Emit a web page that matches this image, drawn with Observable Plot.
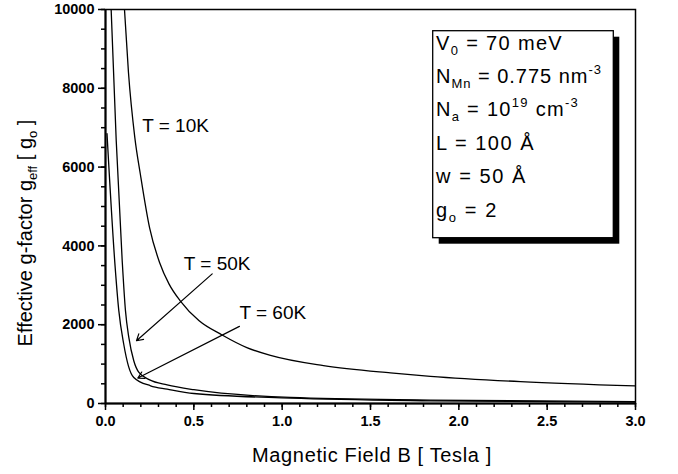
<!DOCTYPE html>
<html><head><meta charset="utf-8">
<script src="https://cdn.jsdelivr.net/npm/d3@7"></script>
<script src="https://cdn.jsdelivr.net/npm/@observablehq/plot@0.6"></script>
<style>body{margin:0;background:#fff;} svg{display:block;}</style>
</head><body><div id="chart"></div>
<script>
// ---- data ----
const B_10K = [0.1075, 0.13, 0.166, 0.198, 0.25, 0.306, 0.36, 0.424, 0.53, 0.66, 0.8, 0.934, 1.234, 1.613, 1.839, 2.349, 3.0];
const G_10K = [10000, 8400, 6750, 5800, 4450, 3580, 3030, 2600, 2100, 1740, 1420, 1220, 960, 775, 690, 555, 445];
const B_50K = [0.032, 0.0606, 0.0945, 0.113, 0.132, 0.160, 0.189, 0.25, 0.349, 0.5, 1.047, 1.839, 3.0];
const G_50K = [10000, 6680, 3625, 2356, 1678, 1085, 788, 600, 475, 350, 153, 86, 45];
const B_60K = [0.0085, 0.054, 0.0753, 0.103, 0.130, 0.160, 0.255, 0.349, 0.5, 1.047, 1.839, 3.0];
const G_60K = [6850, 3500, 2356, 1510, 950, 661, 450, 366, 254, 137, 69, 35];

const xMajorTicks = [0, 0.5, 1.0, 1.5, 2.0, 2.5, 3.0];
const xMinorTicks = d3.range(0, 31).map(i => i / 10);
const yMajorTicks = [0, 2000, 4000, 6000, 8000, 10000];
const yMinorTicks = d3.range(0, 21).map(i => i * 500);

const curveLabels = ["T = 10K", "T = 50K", "T = 60K"];
const labelB = [0.2077, 0.443, 0.758];
const labelG = [7041, 3543, 2298];
const arrowFromB = [0.604, 0.758];
const arrowFromG = [3289, 1957];
const arrowToB = [0.1754, 0.183];
const arrowToG = [1593, 646];

const legendRows = [
  [["V"], ["0", "sub"], [" = 70 meV"]],
  [["N"], ["Mn", "sub"], [" = 0.775 nm"], ["-3", "sup"]],
  [["N"], ["a", "sub"], [" = 10"], ["19", "sup"], [" cm"], ["-3", "sup"]],
  [["L = 100 Å"]],
  [["w = 50 Å"]],
  [["g"], ["o", "sub"], [" = 2"]]
];
const legendRowWidths = [127, 166, 143, 99, 91, 62];
const xTitle = [["Magnetic Field B [ Tesla ]"]];
const yTitle = [["Effective g-factor g"], ["eff", "sub"], [" [ g"], ["o", "sub"], [" ]"]];

// ---- tables ----
const mk = (B, G, T) => B.map((b, i) => ({B: b, g: G[i], T}));
const curves = [...mk(B_10K, G_10K, "10K"), ...mk(B_50K, G_50K, "50K"), ...mk(B_60K, G_60K, "60K")];
const labels = curveLabels.map((t, i) => ({text: t, B: labelB[i], g: labelG[i]}));
const arrows = arrowFromB.map((b, i) => ({B1: b, g1: arrowFromG[i], B2: arrowToB[i], g2: arrowToG[i]}));

const FONT = "'Liberation Sans', Arial, Helvetica, sans-serif";

const chart = Plot.plot({
  width: 678,
  height: 474,
  marginLeft: 105,
  marginRight: 43,
  marginTop: 9,
  marginBottom: 71,
  style: {fontFamily: FONT, fontSize: "15px", color: "black", background: "white"},
  x: {domain: [0, 3]},
  y: {domain: [0, 10000]},
  marks: [
    Plot.frame({stroke: "black", strokeWidth: 1.5}),
    Plot.ruleY([0], {stroke: "black", strokeWidth: 2}),
    Plot.ruleX([0], {stroke: "black", strokeWidth: 2}),
    Plot.axisX({ticks: xMinorTicks, tickSize: 4, tickFormat: () => "", label: null, strokeWidth: 1.5}),
    Plot.axisX({ticks: xMajorTicks, tickSize: 7, tickPadding: 5, tickFormat: d3.format(".1f"), label: null,
      fontWeight: "bold", fontSize: 14.5, strokeWidth: 1.5}),
    Plot.axisY({ticks: yMinorTicks, tickSize: 4, tickFormat: () => "", label: null, strokeWidth: 1.5}),
    Plot.axisY({ticks: yMajorTicks, tickSize: 7, tickPadding: 4, tickFormat: d => String(d), label: null,
      fontWeight: "bold", fontSize: 14.5, strokeWidth: 1.5}),
    Plot.line(curves, {x: "B", y: "g", z: "T", stroke: "black", strokeWidth: 1.3, curve: "monotone-x", clip: true}),
    Plot.arrow(arrows, {x1: "B1", y1: "g1", x2: "B2", y2: "g2", stroke: "black", strokeWidth: 1.2, headLength: 9}),
    Plot.text(labels, {x: "B", y: "g", text: "text", textAnchor: "start", lineAnchor: "middle", fontSize: 19, fill: "black"})
  ]
});
document.getElementById("chart").appendChild(chart);

const svg = d3.select(chart);
svg.selectAll('g[aria-label$="tick label"]').attr("font-weight", "bold").attr("font-size", 14.5);

// ---- rich text helpers (titles and legend with sub/superscripts) ----
function rich(sel, parts, base, small, subDy, supDy) {
  let cur = 0;
  for (const [t, kind] of parts) {
    const target = kind === "sub" ? subDy : kind === "sup" ? -supDy : 0;
    sel.append("tspan").attr("dy", target - cur).attr("font-size", kind ? small : base).text(t);
    cur = target;
  }
}
function fitWidth(sel, parts, target) {
  const n = parts.reduce((s, [t]) => s + t.length, 0);
  const w0 = sel.node().getComputedTextLength();
  const ls = Math.max(0, (target - w0) / n);
  sel.style("letter-spacing", ls + "px");
}

// axis titles
const xt = svg.append("text").attr("x", 372).attr("y", 461.5).attr("text-anchor", "middle")
  .attr("font-family", FONT).attr("fill", "black");
rich(xt, xTitle, 20, 13, 5, 8);
fitWidth(xt, xTitle, 240);
const yt = svg.append("text").attr("transform", "translate(32,233) rotate(-90)").attr("text-anchor", "middle")
  .attr("font-family", FONT).attr("fill", "black");
rich(yt, yTitle, 20, 13, 5, 8);

// legend box with shadow
const lg = svg.append("g");
lg.append("rect").attr("x", 438.7).attr("y", 36.7).attr("width", 180.6).attr("height", 207).attr("fill", "black");
lg.append("rect").attr("x", 432.7).attr("y", 30.7).attr("width", 180.6).attr("height", 207)
  .attr("fill", "white").attr("stroke", "black").attr("stroke-width", 1.3);
legendRows.forEach((row, i) => {
  const t = lg.append("text").attr("x", 436).attr("y", 49.5 + i * 33.4)
    .attr("text-anchor", "start")
    .attr("font-family", FONT).attr("fill", "black");
  rich(t, row, 20, 13, 5, 9);
  fitWidth(t, row, legendRowWidths[i]);
});
</script>
</body></html>
